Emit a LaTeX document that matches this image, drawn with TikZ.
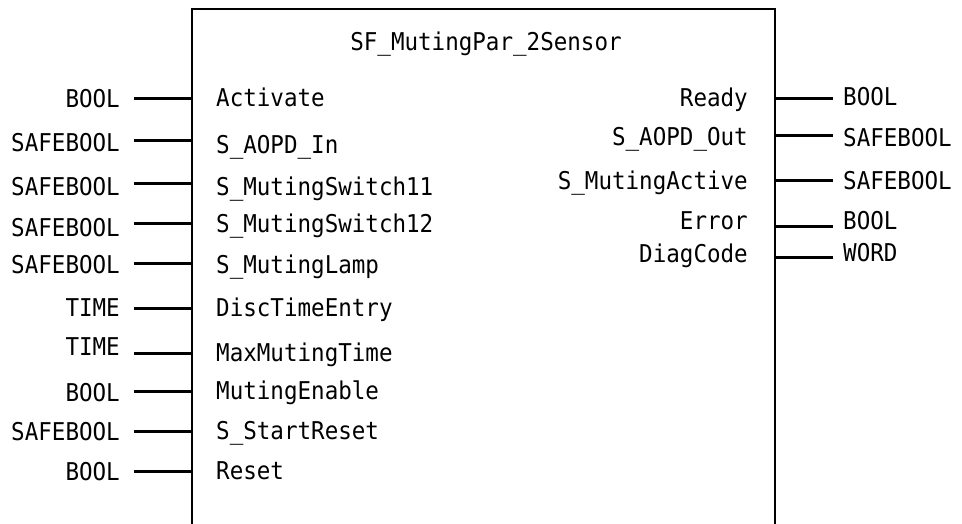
\documentclass[tikz,border=0pt]{standalone}
\usepackage{fontspec}
\setmonofont[FakeStretch=0.92]{DejaVu Sans Mono}
\tikzset{
  lbl/.style={font=\ttfamily\fontsize{24.5}{26}\selectfont, inner sep=0pt, text height=17.8pt, text depth=0pt},
  wire/.style={line width=3pt},
  frame/.style={line width=2.7pt}
}
\begin{document}
\begin{tikzpicture}[x=1pt,y=-1pt]
\useasboundingbox (0,0) rectangle (962,524);
\coordinate (fbl) at (192,530);
\coordinate (ftl) at (192,9);
\coordinate (ftr) at (775,9);
\coordinate (fbr) at (775,530);
\draw[frame] (fbl) -- (ftl) -- (ftr) -- (fbr);
\node[lbl] (title) at (486,42) {SF\_MutingPar\_2Sensor};
\foreach \tp/\nm/\ly/\ty/\ny [count=\i] in {
  BOOL/Activate/99/99/98,
  SAFEBOOL/S\_AOPD\_In/141/143/145,
  SAFEBOOL/S\_MutingSwitch11/184/187/187,
  SAFEBOOL/S\_MutingSwitch12/224/228/224,
  SAFEBOOL/S\_MutingLamp/263/265/265,
  TIME/DiscTimeEntry/308/308/308,
  TIME/MaxMutingTime/353/347/353,
  BOOL/MutingEnable/391/393/391,
  SAFEBOOL/S\_StartReset/431/432/431,
  BOOL/Reset/471/472/471}
{
  \node[lbl,anchor=east] (it\i) at (120,\ty) {\tp};
  \node[lbl,anchor=west] (in\i) at (216,\ny) {\nm};
  \coordinate (ia\i) at (134,\ly);
  \coordinate (ib\i) at (192,\ly);
  \draw[wire] (ia\i) -- (ib\i);
}
\foreach \nm/\tp/\ly/\ny/\ty [count=\i] in {
  Ready/BOOL/99/98/97,
  S\_AOPD\_Out/SAFEBOOL/136/137/138,
  S\_MutingActive/SAFEBOOL/181/181/181,
  Error/BOOL/227/221/221,
  DiagCode/WORD/257/254/253}
{
  \node[lbl,anchor=east] (on\i) at (748,\ny) {\nm};
  \node[lbl,anchor=west] (ot\i) at (843,\ty) {\tp};
  \coordinate (oa\i) at (775,\ly);
  \coordinate (ob\i) at (833,\ly);
  \draw[wire] (oa\i) -- (ob\i);
}
\end{tikzpicture}
\end{document}
